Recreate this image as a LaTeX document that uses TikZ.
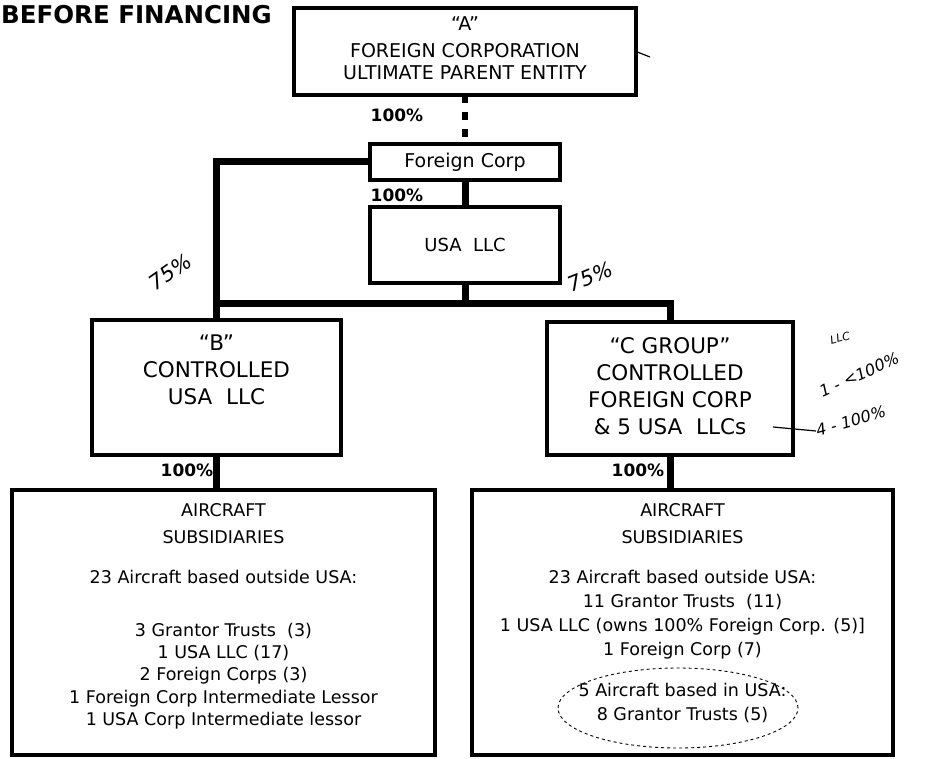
\documentclass[tikz,border=0pt]{standalone}
\usepackage{fontspec}
\setmainfont{DejaVu Sans}
\usepackage{tikz}
\usetikzlibrary{positioning}

\begin{document}
\begin{tikzpicture}[
  x=1pt, y=-1pt,
  frame/.style={draw, line width=4.5pt, outer sep=0pt, inner sep=0pt},
  boxtext/.style={align=center, inner sep=0pt},
  link/.style={line width=7pt},
  dotlink/.style={line width=6pt, dash pattern=on 8pt off 9pt},
  pct/.style={font=\bfseries\fontsize{17}{17}\selectfont, inner sep=0pt},
  hand/.style={font=\itshape\fontsize{16}{16}\selectfont, inner sep=0pt},
  handline/.style={line width=1.2pt},
  ring/.style={line width=0.9pt, dashed}
]
\useasboundingbox (0,0) rectangle (926,759);

\node[font=\bfseries\fontsize{24.5}{24.5}\selectfont, anchor=west, inner sep=0pt] (title) at (1,15) {BEFORE FINANCING};

\node[frame, minimum width=342pt, minimum height=87pt] (a) at (465,51.5) {};
\node[boxtext, font=\fontsize{19}{22}\selectfont, below=8pt of a.north] (atext) {``A''\\[5pt]FOREIGN CORPORATION\\ULTIMATE PARENT ENTITY};

\node[frame, line width=4pt, minimum width=190pt, minimum height=36pt, font=\fontsize{19}{19}\selectfont] (fc) at (465,162) {Foreign Corp};
\node[frame, line width=4pt, minimum width=190pt, minimum height=76pt, font=\fontsize{18}{18}\selectfont] (usa) at (465,245) {USA\ \ LLC};

\node[frame, minimum width=249pt, minimum height=135pt] (b) at (216.5,387.5) {};
\node[boxtext, font=\fontsize{21.5}{27}\selectfont, below=15pt of b.north] (btext) {``B''\\CONTROLLED\\USA\ \ LLC};

\node[frame, minimum width=246pt, minimum height=133pt] (c) at (670,388.5) {};
\node[boxtext, font=\fontsize{21.5}{27}\selectfont, below=15pt of c.north] (ctext) {``C GROUP''\\CONTROLLED\\FOREIGN CORP\\\&\ 5 USA\ \ LLCs};

\node[frame, minimum width=423pt, minimum height=265pt] (bsub) at (223.5,622.5) {};
\node[boxtext, font=\fontsize{17.5}{22.3}\selectfont, below=13.6pt of bsub.north] (bsubtext) {AIRCRAFT\\[4.5pt]SUBSIDIARIES\\[17.5pt]23 Aircraft based outside USA:\\[30.5pt]3 Grantor Trusts\ \ (3)\\1 USA LLC (17)\\2 Foreign Corps (3)\\1 Foreign Corp Intermediate Lessor\\1 USA Corp Intermediate lessor};

\node[frame, minimum width=421pt, minimum height=265pt] (csub) at (682.5,622.5) {};
\node[boxtext, font=\fontsize{17.5}{24}\selectfont, below=13.6pt of csub.north] (csubtext) {AIRCRAFT\\[3pt]SUBSIDIARIES\\[16pt]23 Aircraft based outside USA:\\11 Grantor Trusts\ \ (11)\\1 USA LLC (owns 100\% Foreign Corp. (5)]\\1 Foreign Corp (7)\\[17pt]5 Aircraft based in USA:\\8 Grantor Trusts (5)};

\coordinate (split) at (465,303);
\draw[dotlink] (a) -- (fc);
\draw[link] (fc) -- (usa);
\draw[link] (usa) -- (split);
\draw[link] (fc.west) -| (b.north);
\draw[link] (b.north |- split) -| (c.north);
\draw[link] (b) -- (b |- bsub.north);
\draw[link] (c) -- (c |- csub.north);

\node[pct] (p1) at (397,115) {100\%};
\node[pct] (p2) at (397,195) {100\%};
\node[pct] (p3) at (187,470) {100\%};
\node[pct] (p4) at (638,470) {100\%};

\node[hand, font=\itshape\fontsize{21}{21}\selectfont, rotate=35] (h1) at (170,272) {75\%};
\node[hand, font=\itshape\fontsize{21}{21}\selectfont, rotate=22] (h2) at (590,277) {75\%};
\node[hand, font=\itshape\fontsize{11}{11}\selectfont, rotate=15] (h3) at (840,338) {LLC};
\node[hand, anchor=west, rotate=24] (h4) at (820,392) {1 - <100\%};
\node[hand, anchor=west, rotate=16] (h5) at (816,431) {4 - 100\%};
\coordinate (tick) at (773,427);
\draw[handline] (tick) -- (h5.west);
\coordinate (atick) at (650,57);
\draw[handline] (a.east) -- (atick);

\draw[ring] (678,708) ellipse (120pt and 40pt);
\end{tikzpicture}
\end{document}
